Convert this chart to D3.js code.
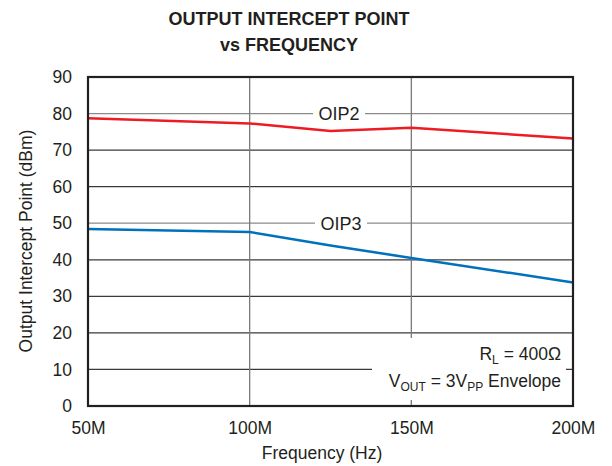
<!DOCTYPE html>
<html>
<head>
<meta charset="utf-8">
<script src="https://cdn.jsdelivr.net/npm/d3@7"></script>
<style>
  body { margin: 0; background: #fff; }
  text { font-family: "Liberation Sans", Arial, Helvetica, sans-serif; fill: #231f20; }
</style>
</head>
<body>
<svg id="chart" width="612" height="466"></svg>
<script>
// frequency points (MHz)
var freqs = [50, 100, 125, 150, 200];
var oip2 = [78.7, 77.3, 75.2, 76.1, 73.2];
var oip3 = [48.4, 47.6, 43.9, 40.5, 33.8];
var xTicks = [50, 100, 150, 200];
var xTickLabels = ["50M", "100M", "150M", "200M"];
var yTicks = [0, 10, 20, 30, 40, 50, 60, 70, 80, 90];

var svg = d3.select("#chart");
var plotL = 88, plotR = 573, plotT = 77, plotB = 406;

var x = d3.scaleLinear().domain([50, 200]).range([plotL, plotR]);
var y = d3.scaleLinear().domain([0, 90]).range([plotB, plotT]);

// title
svg.append("text").attr("x", 289).attr("y", 25).attr("text-anchor", "middle")
  .style("font-weight", "bold").style("font-size", "18px").text("OUTPUT INTERCEPT POINT");
svg.append("text").attr("x", 289).attr("y", 51).attr("text-anchor", "middle")
  .style("font-weight", "bold").style("font-size", "18px").text("vs FREQUENCY");

// grid
var grid = svg.append("g");
grid.selectAll("line.h").data(yTicks.slice(1, -1)).enter().append("line")
  .attr("x1", plotL).attr("x2", plotR)
  .attr("y1", function(d) { return y(d); }).attr("y2", function(d) { return y(d); })
  .attr("stroke", function(d) { return (d === 80 || d === 50) ? "#8a8a8a" : "#3a3a3a"; })
  .attr("stroke-width", 1.3);
grid.selectAll("line.v").data(xTicks.slice(1, -1)).enter().append("line")
  .attr("y1", plotT).attr("y2", plotB)
  .attr("x1", function(d) { return x(d); }).attr("x2", function(d) { return x(d); })
  .attr("stroke", "#7a7a7a").attr("stroke-width", 1.3);

// annotation box background (covers grid)
svg.append("rect").attr("x", 372).attr("y", 338).attr("width", 194).attr("height", 62).attr("fill", "#fff");

// axes
var yAxis = d3.axisLeft(y).tickValues(yTicks).tickSize(0).tickPadding(16);
var gy = svg.append("g").attr("transform", "translate(" + plotL + ",0)").call(yAxis);
gy.select(".domain").remove();
gy.selectAll("text").style("font-size", "17.5px").attr("fill", "#231f20")
  .attr("font-family", null);

var xAxis = d3.axisBottom(x).tickValues(xTicks).tickSize(0).tickPadding(16)
  .tickFormat(function(d, i) { return xTickLabels[i]; });
var gx = svg.append("g").attr("transform", "translate(0," + plotB + ")").call(xAxis);
gx.select(".domain").remove();
gx.selectAll("text").style("font-size", "17.5px").attr("fill", "#231f20");
gy.attr("font-family", null); gx.attr("font-family", null);

// axis labels
svg.append("text").attr("transform", "translate(32,241) rotate(-90)").attr("text-anchor", "middle")
  .style("font-size", "17.5px").text("Output Intercept Point (dBm)");
svg.append("text").attr("x", 322).attr("y", 459).attr("text-anchor", "middle")
  .style("font-size", "17.5px").text("Frequency (Hz)");

// series
var line = d3.line().x(function(d) { return x(d[0]); }).y(function(d) { return y(d[1]); });
svg.append("path").datum(d3.zip(freqs, oip2)).attr("d", line)
  .attr("fill", "none").attr("stroke", "#ed1c24").attr("stroke-width", 2.5);
svg.append("path").datum(d3.zip(freqs, oip3)).attr("d", line)
  .attr("fill", "none").attr("stroke", "#0071bc").attr("stroke-width", 2.5);

// series labels
function seriesLabel(txt, cx, val) {
  svg.append("rect").attr("x", cx - 26).attr("y", y(val) - 9).attr("width", 52).attr("height", 18).attr("fill", "#fff");
  svg.append("text").attr("x", cx).attr("y", y(val) + 6.5).attr("text-anchor", "middle")
    .style("font-size", "18px").text(txt);
}
seriesLabel("OIP2", 339, 80);
seriesLabel("OIP3", 341, 50);

// annotation
var ann = svg.append("text").attr("x", 561).attr("y", 360).attr("text-anchor", "end").style("font-size", "17.5px");
ann.append("tspan").text("R");
ann.append("tspan").attr("dy", 4).style("font-size", "12px").text("L");
ann.append("tspan").attr("dy", -4).text(" = 400\u03A9");
var ann2 = svg.append("text").attr("x", 561).attr("y", 387).attr("text-anchor", "end").style("font-size", "17.5px");
ann2.append("tspan").text("V");
ann2.append("tspan").attr("dy", 4).style("font-size", "12px").text("OUT");
ann2.append("tspan").attr("dy", -4).text(" = 3V");
ann2.append("tspan").attr("dy", 4).style("font-size", "12px").text("PP");
ann2.append("tspan").attr("dy", -4).text(" Envelope");

// frame
svg.append("rect").attr("x", plotL).attr("y", plotT).attr("width", plotR - plotL).attr("height", plotB - plotT)
  .attr("fill", "none").attr("stroke", "#231f20").attr("stroke-width", 2.2);
</script>
</body>
</html>
